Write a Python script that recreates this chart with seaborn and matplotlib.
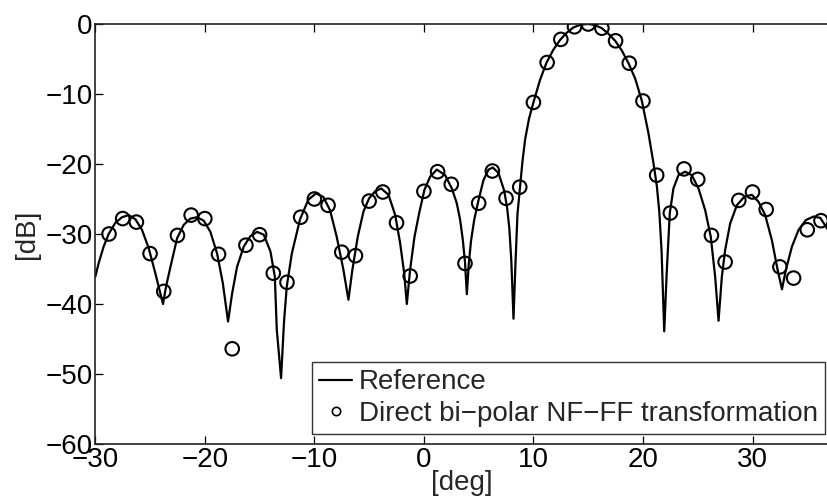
import matplotlib
matplotlib.use("Agg")
import matplotlib.pyplot as plt
from matplotlib.lines import Line2D
import seaborn as sns

# reference pattern, angle in deg, level in dB
line_deg = [-30.0, -29.7, -29.24, -28.78, -28.17, -27.56, -26.95, -26.34, -25.74, -25.13,
            -24.52, -24.06, -23.82,
            -23.54, -23.14, -22.53, -21.93, -21.32, -20.71, -20.1, -19.49, -18.88, -18.36, -17.88,
            -17.51, -17.06, -16.45, -15.84, -15.23, -14.62, -14.01, -13.61, -13.43, -13.04,
            -12.77, -12.52, -12.06, -11.31, -10.55, -9.85, -9.18, -8.57, -7.96, -7.35, -6.89,
            -6.53, -6.04, -5.52, -5.0, -4.45, -3.9, -3.23, -2.62, -2.17, -1.8, -1.56,
            -1.26, -0.86, -0.43, 0.05, 0.57, 1.18, 1.94, 2.55, 3.0, 3.31, 3.55, 3.75, 3.92,
            4.1, 4.3, 4.59, 4.98, 5.44, 5.9, 6.29, 6.81, 7.33, 7.6, 7.8, 7.98, 8.18,
            8.36, 8.54, 8.79, 9.0, 9.25, 9.6, 10.0, 10.6, 11.2, 11.81, 12.42, 13.0, 13.64,
            14.3, 15.0,
            15.6, 16.24, 16.85, 17.46, 18.07, 18.68, 19.29, 19.9, 20.5, 20.96, 21.27, 21.5,
            21.7, 21.94,
            22.18, 22.45, 22.78, 23.24, 23.85, 24.46, 25.07, 25.68, 26.19, 26.59, 26.9,
            27.2, 27.5, 27.96, 28.57, 29.24, 29.94, 30.55, 31.16, 31.77, 32.29, 32.69,
            33.05, 33.6, 34.21, 34.88, 35.58, 36.19, 36.89]
line_db = [-36.1, -34.2, -31.8, -30.0, -28.4, -27.6, -27.3, -27.9, -29.4, -32.0,
           -35.6, -38.5, -40.0,
           -37.5, -34.7, -30.6, -28.7, -27.8, -27.6, -28.1, -29.7, -32.8, -37.0, -42.5,
           -38.5, -34.7, -31.8, -30.3, -29.7, -30.1, -32.5, -36.1, -43.7, -50.6,
           -42.5, -37.5, -32.8, -27.9, -25.1, -24.2, -24.7, -26.6, -30.4, -35.1, -39.4,
           -35.1, -30.4, -26.8, -24.9, -23.9, -23.5, -24.4, -27.3, -31.3, -35.6, -40.0,
           -35.1, -30.4, -27.0, -23.7, -21.8, -20.8, -21.6, -23.5, -25.6, -28.0, -30.8, -34.0, -38.6,
           -34.2, -31.0, -28.0, -25.2, -22.3, -20.8, -20.5, -21.3, -23.8, -26.3, -29.2, -33.8, -42.1,
           -34.2, -27.2, -23.0, -19.6, -16.4, -13.5, -11.2, -8.0, -5.5, -3.7, -2.3, -1.3, -0.5,
           -0.1, 0.0,
           -0.15, -0.6, -1.4, -2.4, -3.8, -5.6, -7.8, -11.0, -15.6, -19.9, -23.2, -27.0,
           -32.5, -43.9,
           -35.1, -27.0, -23.5, -21.6, -21.1, -21.6, -23.5, -26.6, -30.4, -36.1, -42.4,
           -36.1, -32.3, -28.5, -25.9, -24.7, -24.4, -25.4, -27.3, -30.9, -35.1, -37.9,
           -35.1, -31.8, -29.4, -28.0, -27.5, -27.7, -29.4]

# measured samples (circles)
circ_deg = [-28.75, -27.5, -26.25, -25, -23.75, -22.5, -21.25, -20, -18.75, -17.5,
            -16.25, -15, -13.75, -12.5, -11.25, -10, -8.75, -7.5, -6.25, -5,
            -3.75, -2.5, -1.25, 0, 1.25, 2.5, 3.75, 5, 6.25, 7.5,
            8.75, 10, 11.25, 12.5, 13.75, 15, 16.25, 17.5, 18.75, 20,
            21.25, 22.5, 23.75, 25, 26.25, 27.5, 28.75, 30, 31.25, 32.5,
            33.75, 35, 36.25]
circ_db = [-30.0, -27.8, -28.3, -32.8, -38.2, -30.2, -27.3, -27.8, -32.9, -46.4,
           -31.6, -30.1, -35.6, -36.9, -27.6, -25.0, -25.9, -32.6, -33.1, -25.3,
           -24.0, -28.4, -36.0, -23.9, -21.1, -22.9, -34.2, -25.6, -21.0, -24.9,
           -23.3, -11.2, -5.5, -2.2, -0.4, 0.0, -0.6, -2.4, -5.6, -11.0,
           -21.6, -27.0, -20.7, -22.2, -30.2, -34.0, -25.2, -24.0, -26.5, -34.7,
           -36.3, -29.4, -28.1]

x_ticks = [-30, -20, -10, 0, 10, 20, 30]
y_ticks = [0, -10, -20, -30, -40, -50, -60]
legend_labels = ["Reference", "Direct bi\u2212polar NF\u2212FF transformation"]

sns.set_style("ticks")
plt.rcParams['font.family'] = ['Liberation Sans', 'DejaVu Sans']
plt.rcParams['axes.unicode_minus'] = True

fig = plt.figure(figsize=(8.28, 5.03), dpi=100)
ax = fig.add_axes([0.1151, 0.1173, 0.885, 0.835])

sns.lineplot(x=line_deg, y=line_db, color='black', linewidth=1.6,
             sort=False, estimator=None, ax=ax, zorder=2)
sns.scatterplot(x=circ_deg, y=circ_db, marker='o', s=95, facecolors='none',
                edgecolors='black', linewidth=1.5, ax=ax, zorder=3)

ax.set_xlim(-30, 36.9)
ax.set_ylim(-60, 0)
ax.set_xticks(x_ticks)
ax.set_yticks(y_ticks)
ax.tick_params(direction='in', length=6, width=0.9, labelsize=20, colors='black',
               top=True, right=False, pad=2)
for side in ['left', 'top', 'bottom']:
    ax.spines[side].set_linewidth(1.2)
    ax.spines[side].set_color('#222222')
ax.spines['right'].set_visible(False)

ax.set_xlabel("[deg]", fontsize=20, labelpad=-2)
ax.set_ylabel("[dB]", fontsize=20, labelpad=4)

handles = [Line2D([], [], color='black', linewidth=1.6),
           Line2D([], [], color='black', linestyle='none', marker='o', markersize=6,
                  markerfacecolor='none', markeredgewidth=1.2)]
leg = ax.legend(handles, legend_labels, loc='lower right', bbox_to_anchor=(0.996, 0.024),
                borderaxespad=0, fontsize=20, frameon=True, fancybox=False,
                edgecolor='black', handlelength=1.2, handletextpad=0.25,
                borderpad=0.25, labelspacing=0.2)
leg.get_frame().set_linewidth(1.0)

fig.savefig("out.png", dpi=100)
